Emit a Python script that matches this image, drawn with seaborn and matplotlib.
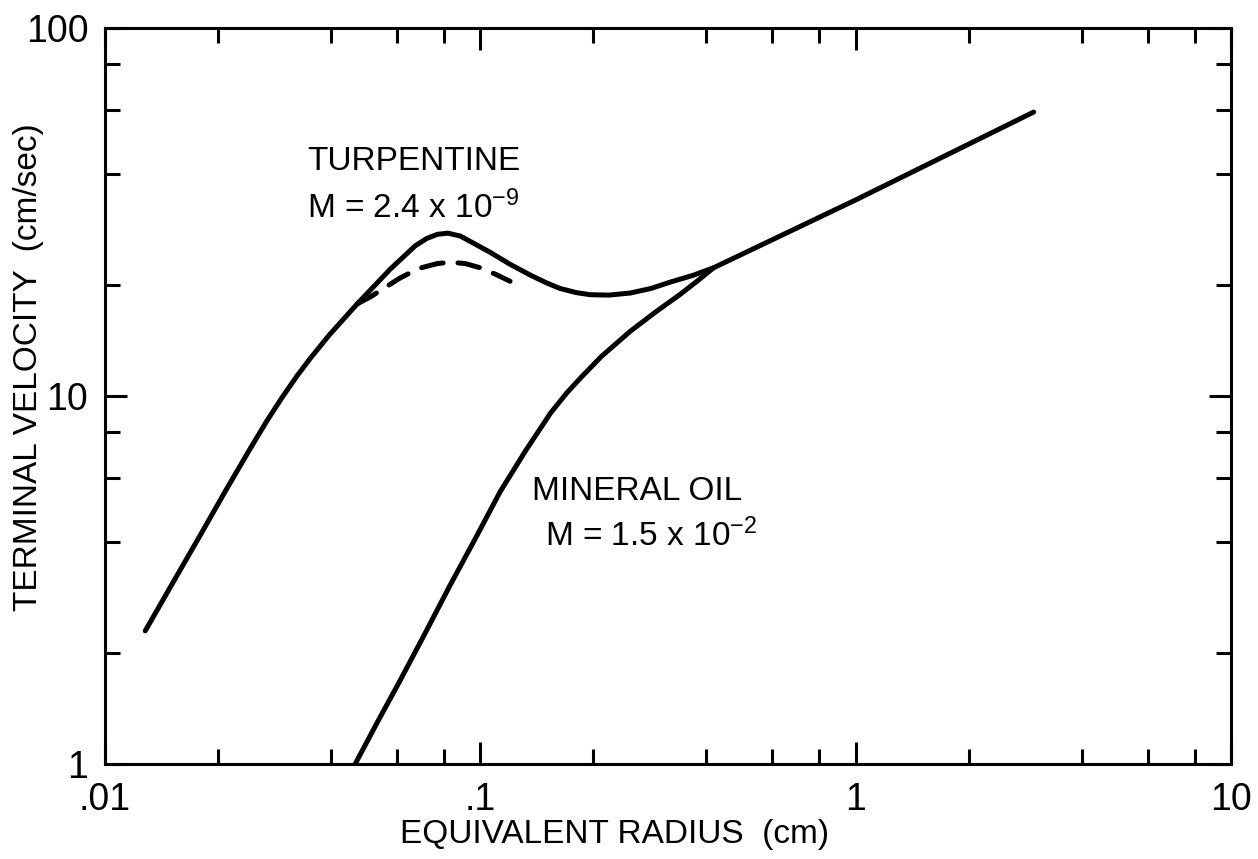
import numpy as np
import pandas as pd
import matplotlib
matplotlib.use("Agg")
import matplotlib.pyplot as plt
from matplotlib.ticker import LogLocator, FixedLocator, FixedFormatter, NullFormatter
import seaborn as sns

# ---- data ----
turp_x = [0.0128, 0.015, 0.0179, 0.021, 0.0244, 0.027, 0.0296, 0.0325, 0.0352, 0.0397,
          0.047, 0.0575, 0.0671, 0.072, 0.0768, 0.082, 0.0885, 0.096, 0.106, 0.12,
          0.136, 0.15, 0.163, 0.18, 0.196, 0.22, 0.251, 0.285, 0.321, 0.37, 0.418,
          1.0, 2.98]
turp_y = [2.3, 3.05, 4.17, 5.55, 7.21, 8.56, 9.89, 11.35, 12.64, 14.7,
          17.8, 22.1, 25.6, 26.8, 27.5, 27.7, 27.2, 26.0, 24.6, 22.8,
          21.3, 20.3, 19.6, 19.1, 18.85, 18.8, 19.05, 19.6, 20.4, 21.3, 22.3,
          34.1, 59.1]

dash_x = [0.047, 0.051, 0.0548, 0.061, 0.0684, 0.0768, 0.0832, 0.0912, 0.1, 0.11, 0.120]
dash_y = [17.8, 18.6, 19.5, 20.9, 22.2, 22.9, 23.1, 22.9, 22.3, 21.4, 20.5]

oil_x = [0.0464, 0.0532, 0.0612, 0.071, 0.0832, 0.097, 0.113, 0.132, 0.154, 0.17,
         0.185, 0.21, 0.251, 0.295, 0.341, 0.38, 0.418]
oil_y = [1.0, 1.3, 1.69, 2.25, 3.07, 4.1, 5.5, 7.1, 9.0, 10.2,
         11.2, 12.8, 15.0, 17.0, 18.9, 20.6, 22.3]

x_ticks = [0.01, 0.1, 1, 10]
x_labels = [".01", ".1", "1", "10"]
y_ticks = [1, 10, 100]
y_labels = ["1", "10", "100"]

sns.set_theme(style="ticks")
plt.rcParams["font.family"] = ["Liberation Sans", "DejaVu Sans"]
plt.rcParams["mathtext.fontset"] = "custom"
plt.rcParams["mathtext.rm"] = "Liberation Sans"
plt.rcParams["mathtext.it"] = "Liberation Sans"
plt.rcParams["mathtext.bf"] = "Liberation Sans"

W, H = 1258, 859
fig = plt.figure(figsize=(W / 100, H / 100), dpi=100)
fig.patch.set_facecolor("white")
ax = fig.add_axes([105 / W, 1 - 764 / H, (1231 - 105) / W, (764 - 28) / H])
ax.set_facecolor("white")

df_t = pd.DataFrame({"x": turp_x, "y": turp_y})
df_d = pd.DataFrame({"x": dash_x, "y": dash_y})
df_o = pd.DataFrame({"x": oil_x, "y": oil_y})

lw = 3.6
sns.lineplot(data=df_t, x="x", y="y", ax=ax, color="black", lw=lw, sort=False,
             estimator=None, solid_capstyle="round", solid_joinstyle="round")
sns.lineplot(data=df_o, x="x", y="y", ax=ax, color="black", lw=lw, sort=False,
             estimator=None, solid_capstyle="round", solid_joinstyle="round")
sns.lineplot(data=df_d, x="x", y="y", ax=ax, color="black", lw=lw, sort=False,
             estimator=None)
ax.lines[-1].set_dashes([4.4, 3.0])
ax.lines[-1].set_dash_capstyle("round")

ax.set_xscale("log")
ax.set_yscale("log")
ax.set_xlim(0.01, 10)
ax.set_ylim(1, 100)

ax.xaxis.set_major_locator(FixedLocator(x_ticks))
ax.xaxis.set_major_formatter(FixedFormatter(x_labels))
ax.yaxis.set_major_locator(FixedLocator(y_ticks))
ax.yaxis.set_major_formatter(FixedFormatter(y_labels))
ax.xaxis.set_minor_locator(LogLocator(base=10, subs=[2, 4, 6, 8], numticks=20))
ax.yaxis.set_minor_locator(LogLocator(base=10, subs=[2, 4, 6, 8], numticks=20))
ax.xaxis.set_minor_formatter(NullFormatter())
ax.yaxis.set_minor_formatter(NullFormatter())

ax.tick_params(which="both", direction="in", top=True, right=True, color="black", width=2.2)
ax.tick_params(which="major", length=16, labelsize=27, labelcolor="black")
ax.tick_params(which="minor", length=11)
ax.tick_params(axis="x", which="major", pad=13)
ax.tick_params(axis="y", which="major", pad=12)

for s in ax.spines.values():
    s.set_visible(True)
    s.set_linewidth(2.2)
    s.set_color("black")

ax.set_xlabel("")
ax.set_ylabel("")
fig.text(615 / W, 1 - 834 / H, "EQUIVALENT RADIUS  (cm)", ha="center", va="center",
         fontsize=24, color="black")
fig.text(29 / W, 1 - 367 / H, "TERMINAL VELOCITY  (cm/sec)", ha="center", va="center",
         rotation=90, fontsize=24, color="black")

ax.text(0.0346, 41.1, "TURPENTINE", fontsize=24, ha="left", va="baseline", color="black")
ax.text(0.0346, 30.5, "M = 2.4 x 10$^{-9}$", fontsize=24, ha="left", va="baseline", color="black")
ax.text(0.1376, 5.22, "MINERAL OIL", fontsize=24, ha="left", va="baseline", color="black")
ax.text(0.149, 3.91, "M = 1.5 x 10$^{-2}$", fontsize=24, ha="left", va="baseline", color="black")

fig.savefig("out.png", dpi=100, facecolor="white")
